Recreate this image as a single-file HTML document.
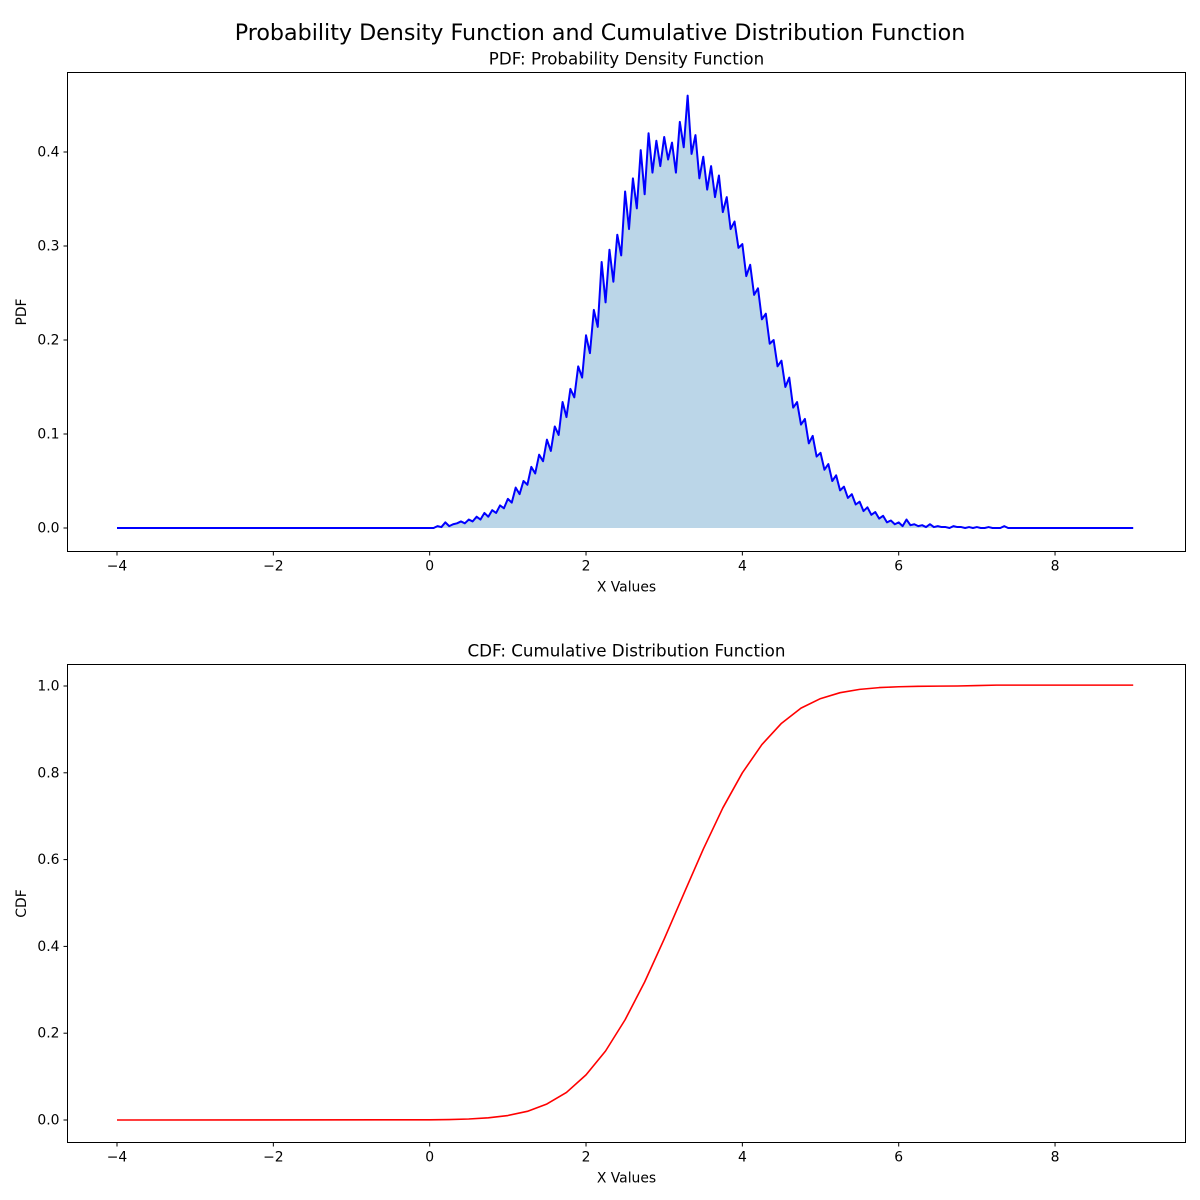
<!DOCTYPE html>
<html><head><meta charset="utf-8"><style>
html,body{margin:0;padding:0;background:#fff;}
svg{display:block;font-family:"DejaVu Sans","Liberation Sans",sans-serif;}
</style></head><body>
<svg id="chart" width="1200" height="1200" viewBox="0 0 1200 1200">
<rect width="1200" height="1200" fill="#fff"/>
<text x="600" y="40" font-size="22.2" text-anchor="middle">Probability Density Function and Cumulative Distribution Function</text>
<g id="top"></g>
<g id="bot"></g>
</svg>
<script>
const xTicks = [-4, -2, 0, 2, 4, 6, 8];
const pdfTicks = [0.0, 0.1, 0.2, 0.3, 0.4];
const cdfTicks = [0.0, 0.2, 0.4, 0.6, 0.8, 1.0];
const pdfStart = 0, pdfStep = 0.05;
const pdfValues = [0,0,.002,.001,.006,.002,.004,.005,.007,.005,.009,.007,.012,.009,.016,.012,.019,.016,.024,.021,
.031,.027,.043,.036,.050,.046,.065,.058,.078,.071,.094,.082,.108,.099,.134,.118,.148,.139,.172,.160,
.205,.186,.232,.214,.283,.240,.296,.262,.312,.290,.358,.318,.372,.340,.402,.355,.420,.378,.412,.385,
.416,.392,.410,.378,.432,.405,.460,.398,.418,.372,.395,.360,.385,.352,.375,.336,.352,.318,.326,.298,
.302,.268,.280,.248,.255,.222,.228,.196,.200,.172,.178,.150,.160,.128,.134,.110,.116,.090,.098,.076,
.080,.062,.068,.050,.056,.040,.044,.032,.036,.025,.028,.018,.022,.014,.017,.010,.013,.006,.008,.004,
.006,.002,.009,.003,.004,.002,.003,.001,.004,.001,.002,.001,.001,0,.002,.001,.001,0,.001,0,
.001,0,0,.001,0,0,0,.002,0];
const cdfStart = 0, cdfStep = 0.25;
const cdfValues = [.0004,.001,.0023,.005,.0103,.020,.037,.0635,.104,.159,.231,.318,.417,.521,.624,.719,.800,.865,.914,.949,.971,.9846,.9922,.9963,.9983,.9993,.9997,1.0,1.001,1.002];
const xMin = -4, xMax = 9;

const NS = "http://www.w3.org/2000/svg";
function mk(parent, tag, attrs, text){const e=document.createElementNS(NS,tag);for(const k in attrs)e.setAttribute(k,attrs[k]);if(text!==undefined)e.textContent=text;parent.appendChild(e);return e;}
function fmt(v){return v<0?"\u2212"+Math.abs(v):String(v);}

function panel(g, box, yZeroPix, yPerUnit, yTicks, title, ylabel){
  const X = v => 117 + (v + 4) * 78.17;
  const Y = v => yZeroPix - v * yPerUnit;
  const ax = {X, Y};
  const t = mk(g,'text',{x:(box.l+box.r)/2,y:box.t-8,'font-size':16.7,'text-anchor':'middle'},title);
  
  
  xTicks.forEach(v=>{
    const l=mk(g,'line',{x1:X(v),x2:X(v),y1:box.b,y2:box.b+4,stroke:'#000','stroke-width':1});
    
    
    const s=mk(g,'text',{x:X(v),y:box.b+19,'font-size':13.9,'text-anchor':'middle'},fmt(v));
    
    
  });
  yTicks.forEach(v=>{
    const l=mk(g,'line',{x1:box.l-4,x2:box.l,y1:Y(v),y2:Y(v),stroke:'#000','stroke-width':1});
    
    
    const s=mk(g,'text',{x:box.l-8,y:Y(v)+4.5,'font-size':13.9,'text-anchor':'end'},v.toFixed(1));
    
    
  });
  const xl=mk(g,'text',{x:(box.l+box.r)/2,y:box.b+40,'font-size':13.9,'text-anchor':'middle'},'X Values');
  
  
  const cy=(box.t+box.b)/2;
  const yl=mk(g,'text',{x:26,y:cy,'font-size':13.9,'text-anchor':'middle',transform:`rotate(-90 26 ${cy})`},ylabel);
  
  
  return ax;
}
function frame(g, box){
  const r=mk(g,'rect',{x:box.l,y:box.t,width:box.r-box.l,height:box.b-box.t,fill:'none',stroke:'#000','stroke-width':1});
  
  
}

// PDF
const topG = document.getElementById('top');
const tb = {l:67.5,r:1185.5,t:72.5,b:551.5};
const a1 = panel(topG, tb, 528, 940, pdfTicks, 'PDF: Probability Density Function', 'PDF');
let pts = [[xMin,0]];
pdfValues.forEach((v,i)=>pts.push([pdfStart+i*pdfStep, v]));
pts.push([xMax,0]);
let d = pts.map((p,i)=>(i?'L':'M')+a1.X(p[0]).toFixed(2)+','+a1.Y(p[1]).toFixed(2)).join('');
const fill = mk(topG,'path',{d:d+'L'+a1.X(xMax)+','+a1.Y(0)+'L'+a1.X(xMin)+','+a1.Y(0)+'Z',fill:'#1f77b4','fill-opacity':0.3,stroke:'none'});


const pl = mk(topG,'path',{d:d,fill:'none',stroke:'#0000ff','stroke-width':2,'stroke-linejoin':'round'});


frame(topG, tb);

// CDF
const botG = document.getElementById('bot');
const bb = {l:67.5,r:1185.5,t:664.5,b:1142.5};
const a2 = panel(botG, bb, 1120, 434, cdfTicks, 'CDF: Cumulative Distribution Function', 'CDF');
let cp = [[xMin,0]];
cdfValues.forEach((v,i)=>cp.push([cdfStart+i*cdfStep, v]));
cp.push([xMax, cdfValues[cdfValues.length-1]]);
const cl = mk(botG,'path',{d:cp.map((p,i)=>(i?'L':'M')+a2.X(p[0]).toFixed(2)+','+a2.Y(p[1]).toFixed(2)).join(''),fill:'none',stroke:'#ff0000','stroke-width':1.6,'stroke-linejoin':'round'});


frame(botG, bb);
</script>
</body></html>
